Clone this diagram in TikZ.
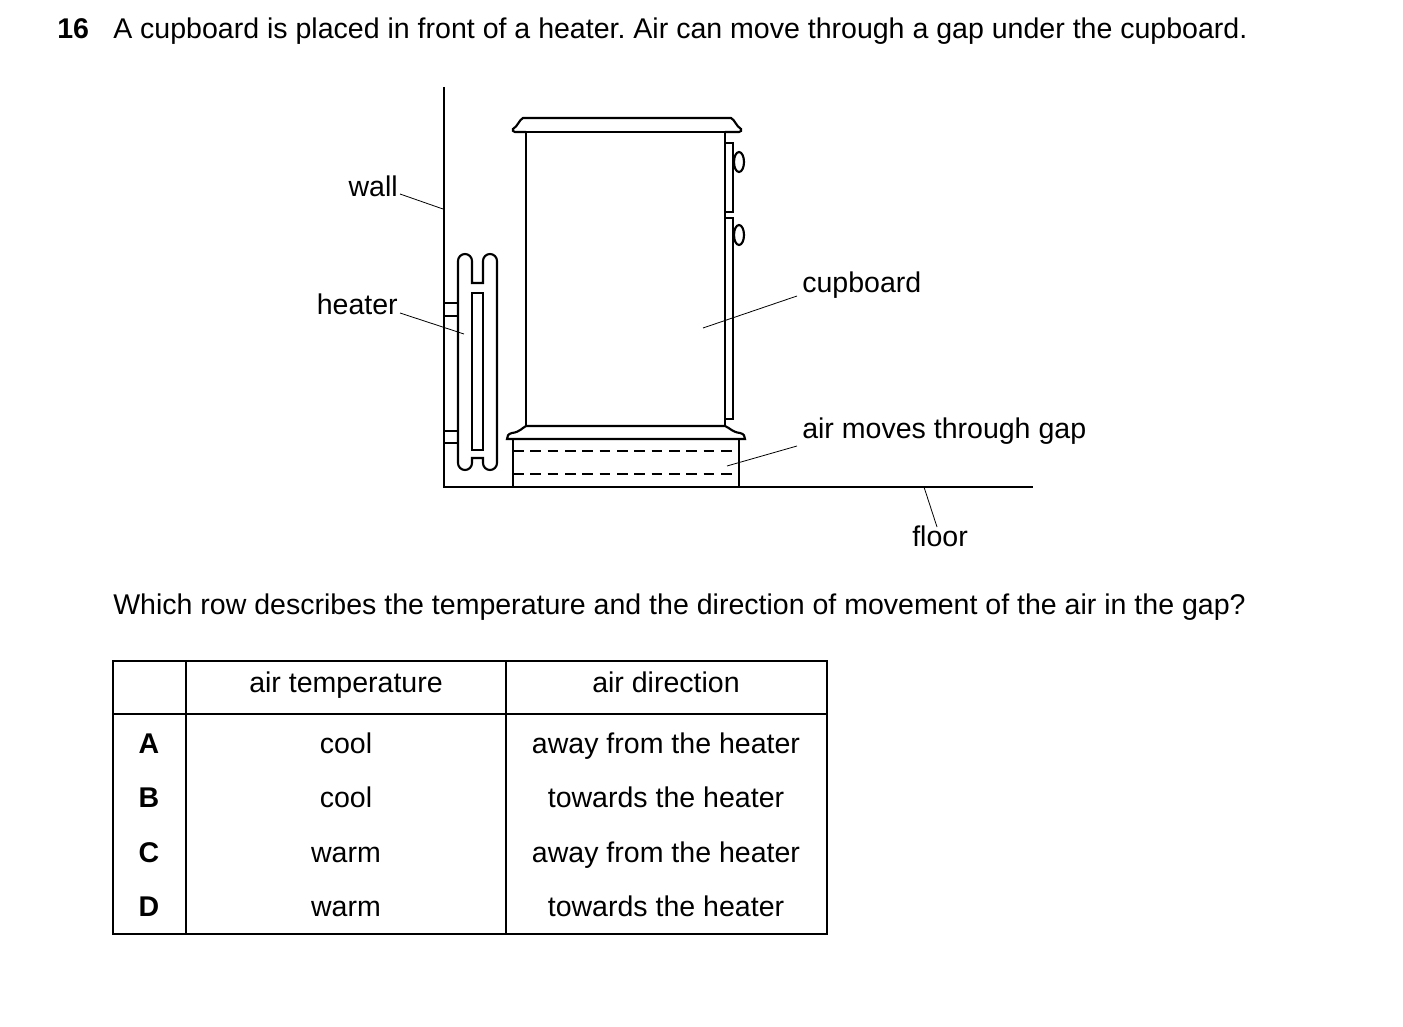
\documentclass[tikz,border=0pt]{standalone}
\usepackage{fontspec}
\setmainfont{Liberation Sans}
\begin{document}
\frenchspacing
\begin{tikzpicture}[x=0.75pt,y=-0.75pt,
  txt/.style={font=\fontsize{21.4}{25}\selectfont,inner sep=0pt,text height=0.72em,text depth=0.2em},
  thick line/.style={line width=1.6pt},
  lead/.style={line width=0.6pt},
  grid/.style={line width=0.9pt}]
\useasboundingbox (0,0) rectangle (1403,1027);
% heading
\node[txt,font=\fontsize{21.4}{25}\selectfont\bfseries,anchor=west] (num) at (57,35) {16};
\node[txt,anchor=west] (title) at (113,35) {A cupboard is placed in front of a heater. Air can move through a gap under the cupboard.};
% wall and floor
\coordinate (wtop) at (444,87);
\coordinate (corner) at (444,487);
\coordinate (fend) at (1033,487);
\draw[thick line] (wtop) -- (corner) -- (fend);
% heater
\draw[thick line] (472,283) -- (472,261) arc[start angle=0,end angle=-180,radius=7] -- (458,463) arc[start angle=180,end angle=0,radius=7] -- (472,458) -- (483,458) -- (483,463) arc[start angle=180,end angle=0,radius=7] -- (497,261) arc[start angle=0,end angle=-180,radius=7] -- (483,283) -- cycle;
\draw[thick line] (472,293) rectangle (483,450);
\draw[thick line] (444,303) rectangle (458,316);
\draw[thick line] (444,431) rectangle (458,443);
% cupboard
\draw[thick line] (526,132) rectangle (725,426);
\draw[thick line] (526,132) -- (515,132) .. controls (513,132) and (512,130) .. (513,129) .. controls (518,126) and (519,120) .. (523,118) -- (731,118) .. controls (735,120) and (736,126) .. (741,129) .. controls (742,130) and (741,132) .. (739,132) -- (725,132);
\draw[thick line] (725,143) -- (733,143) -- (733,212) -- (725,212);
\draw[thick line] (725,218) -- (733,218) -- (733,419) -- (725,419);
\draw[thick line] (739,162) ellipse[x radius=5,y radius=10];
\draw[thick line] (739,235) ellipse[x radius=5,y radius=10];
% plinth
\draw[thick line] (526,426) .. controls (522,428) and (520,432) .. (512,433) .. controls (508,434) and (507,436) .. (507,439) -- (745,439) .. controls (745,436) and (744,434) .. (740,433) .. controls (732,432) and (730,428) .. (725,426) -- cycle;
\draw[thick line] (513,439) rectangle (739,487);
\draw[dashed,line width=0.9pt,dash pattern=on 8pt off 5pt] (513,451) -- (739,451) (513,474) -- (739,474);
% labels
\node[txt,anchor=east] (wall) at (398,193) {wall};
\draw[lead] (400,194) -- (443,209);
\node[txt,anchor=east] (heater) at (398,311) {heater};
\draw[lead] (400,313) -- (464,334);
\node[txt,anchor=west] (cup) at (802,289) {cupboard};
\draw[lead] (797,296) -- (703,328);
\node[txt,anchor=west] (gap) at (802,435) {air moves through gap};
\draw[lead] (797,446) -- (727,466);
\node[txt] (floor) at (940,543) {floor};
\draw[lead] (937,527) -- (924,487);
% question
\node[txt,anchor=west] (q) at (113,611) {Which row describes the temperature and the direction of movement of the air in the gap?};
% table
\draw[grid] (113,661) rectangle (827,934);
\draw[grid] (113,714) -- (827,714);
\draw[grid] (186,661) -- (186,934);
\draw[grid] (506,661) -- (506,934);
\node[txt] (h1) at (346,689) {air temperature};
\node[txt] (h2) at (666,689) {air direction};
\foreach \l/\t/\d/\y in {A/cool/away from the heater/750, B/cool/towards the heater/804, C/warm/away from the heater/859, D/warm/towards the heater/913}{
  \node[txt,font=\fontsize{21.4}{25}\selectfont\bfseries] (l\l) at (149,\y) {\l};
  \node[txt] (t\l) at (346,\y) {\t};
  \node[txt] (d\l) at (666,\y) {\d};
}
\end{tikzpicture}
\end{document}
